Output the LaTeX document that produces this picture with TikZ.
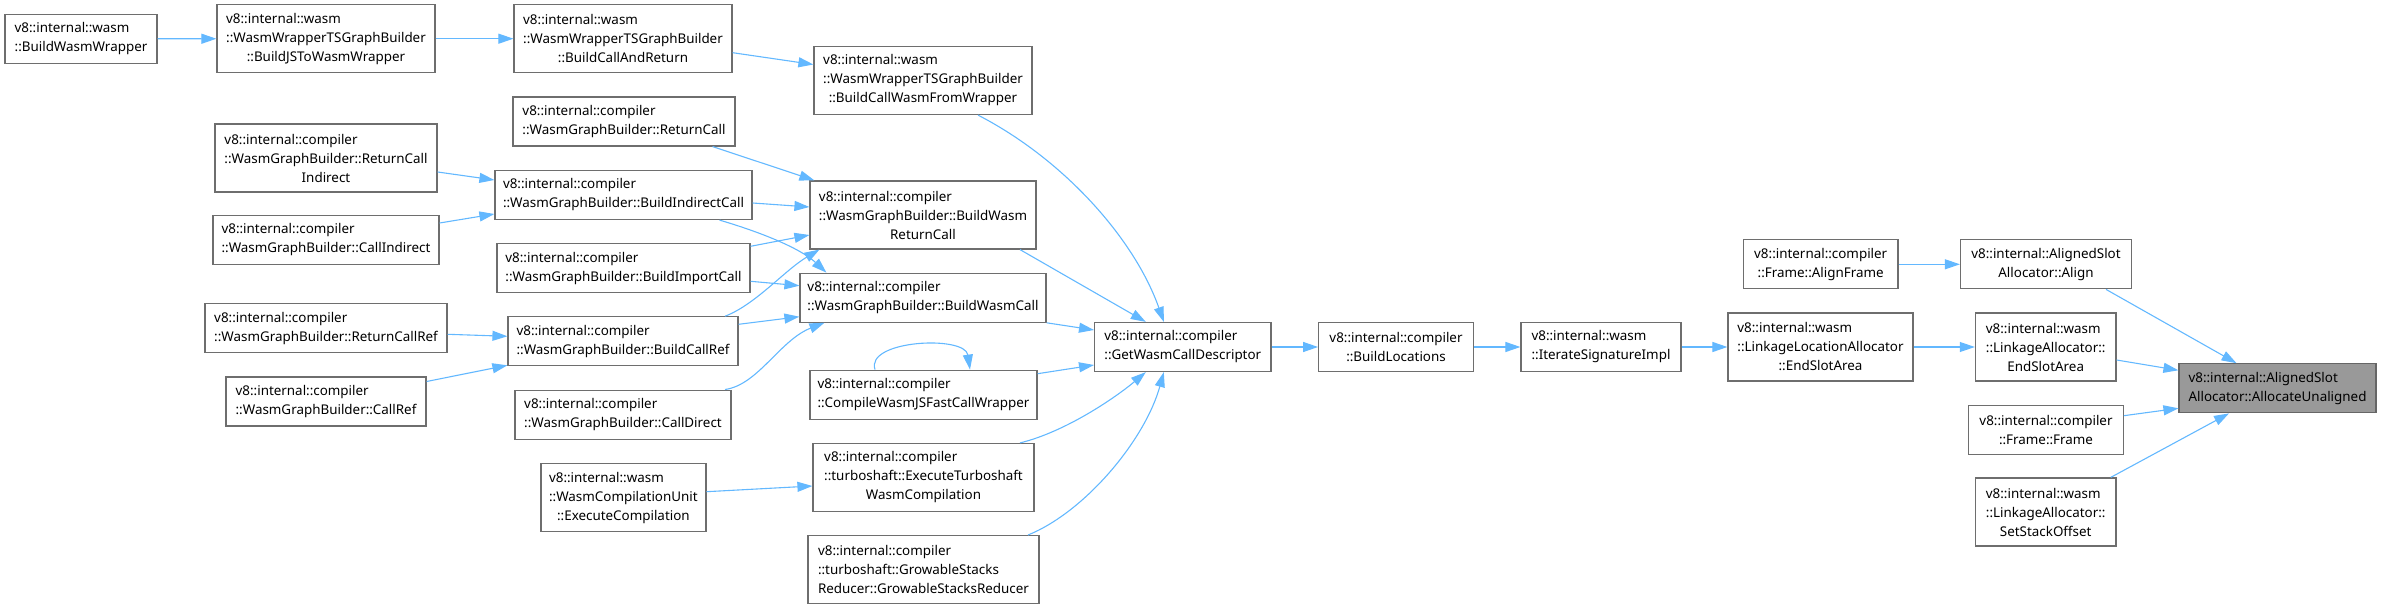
\documentclass[tikz,border=0pt]{standalone}
\usepackage{fontspec}
\setmainfont{Noto Sans}
\usetikzlibrary{arrows.meta}
\definecolor{edgeblue}{HTML}{63B8FF}
\definecolor{boxline}{HTML}{6E6E6E}
\definecolor{hilite}{HTML}{999999}
\definecolor{hiline}{HTML}{666666}

\begin{document}
\begin{tikzpicture}[
    x=1pt, y=-1pt,
    every node/.style={font=\fontsize{13.4}{19}\selectfont},
    box/.style={draw=boxline, fill=white, rectangle, line width=1.2pt, inner sep=4pt, align=left, minimum height=49pt},
    tall/.style={minimum height=68pt},
    focus/.style={box, draw=hiline, fill=hilite},
    arrow/.style={line width=1.1pt, -{Triangle[length=15pt, width=10pt]}, color=edgeblue}
]
\useasboundingbox (0,0) rectangle (2381,609);

\node (wrapper) [box, minimum width=152pt] at (81,38.8) {v8::internal::wasm\\\hfil::BuildWasmWrapper};
\node (jstowasm) [box, tall, minimum width=218pt] at (326,38.7) {v8::internal::wasm\\::WasmWrapperTSGraphBuilder\\\hfil::BuildJSToWasmWrapper};
\node (callreturn) [box, tall, minimum width=218pt] at (623,38.7) {v8::internal::wasm\\::WasmWrapperTSGraphBuilder\\\hfil::BuildCallAndReturn};
\node (fromwrapper) [box, tall, minimum width=218pt] at (923,80.5) {v8::internal::wasm\\::WasmWrapperTSGraphBuilder\\\hfil::BuildCallWasmFromWrapper};
\node (returncall) [box, minimum width=222pt] at (624,121.5) {v8::internal::compiler\\\hfil::WasmGraphBuilder::ReturnCall};
\node (rcindirect) [box, tall, minimum width=222pt] at (326,158) {v8::internal::compiler\\::WasmGraphBuilder::ReturnCall\\\hfil Indirect};
\node (indirectcall) [box, minimum width=257pt] at (623.5,195) {v8::internal::compiler\\\hfil::WasmGraphBuilder::BuildIndirectCall};
\node (callindirect) [box, minimum width=226pt] at (326,240) {v8::internal::compiler\\\hfil::WasmGraphBuilder::CallIndirect};
\node (wasmreturn) [box, tall, minimum width=226pt] at (923,215) {v8::internal::compiler\\::WasmGraphBuilder::BuildWasm\\\hfil ReturnCall};
\node (importcall) [box, minimum width=253pt] at (623.5,268.3) {v8::internal::compiler\\\hfil::WasmGraphBuilder::BuildImportCall};
\node (wasmcall) [box, minimum width=246pt] at (923,297.7) {v8::internal::compiler\\\hfil::WasmGraphBuilder::BuildWasmCall};
\node (rcref) [box, minimum width=242pt] at (326,328.3) {v8::internal::compiler\\\hfil::WasmGraphBuilder::ReturnCallRef};
\node (buildcallref) [box, minimum width=230pt] at (623,341.3) {v8::internal::compiler\\\hfil::WasmGraphBuilder::BuildCallRef};
\node (callref) [box, minimum width=200pt] at (326,401.5) {v8::internal::compiler\\\hfil::WasmGraphBuilder::CallRef};
\node (calldirect) [box, minimum width=216pt] at (623,414.6) {v8::internal::compiler\\\hfil::WasmGraphBuilder::CallDirect};
\node (fastcall) [box, minimum width=227pt] at (923.5,394.7) {v8::internal::compiler\\\hfil::CompileWasmJSFastCallWrapper};
\node (turboshaft) [box, tall, minimum width=221pt] at (923.5,477.5) {v8::internal::compiler\\::turboshaft::ExecuteTurboshaft\\\hfil WasmCompilation};
\node (execcomp) [box, tall, minimum width=165pt] at (623.4,497.7) {v8::internal::wasm\\::WasmCompilationUnit\\\hfil::ExecuteCompilation};
\node (growable) [box, tall, minimum width=231pt] at (923.5,569.6) {v8::internal::compiler\\::turboshaft::GrowableStacks\\\hfil Reducer::GrowableStacksReducer};
\node (descriptor) [box, minimum width=176.4pt] at (1182.8,347) {v8::internal::compiler\\\hfil::GetWasmCallDescriptor};
\node (locations) [box, minimum width=154.6pt] at (1396,347) {v8::internal::compiler\\\hfil::BuildLocations};
\node (iterate) [box, minimum width=160pt] at (1601,347) {v8::internal::wasm\\\hfil::IterateSignatureImpl};
\node (locend) [box, tall, minimum width=185pt] at (1820.5,347) {v8::internal::wasm\\::LinkageLocationAllocator\\\hfil::EndSlotArea};
\node (alignframe) [box, minimum width=154.6pt] at (1820.7,264.3) {v8::internal::compiler\\\hfil::Frame::AlignFrame};
\node (align) [box, minimum width=171pt] at (2046,264.3) {v8::internal::AlignedSlot\\\hfil Allocator::Align};
\node (linkend) [box, tall, minimum width=140.6pt] at (2045.7,347) {v8::internal::wasm\\::LinkageAllocator::\\\hfil EndSlotArea};
\node (target) [focus, minimum width=197pt] at (2277.5,388.3) {v8::internal::AlignedSlot\\\hfil Allocator::AllocateUnaligned};
\node (frame) [box, minimum width=154.5pt] at (2046,429.7) {v8::internal::compiler\\\hfil::Frame::Frame};
\node (stackoff) [box, tall, minimum width=140.6pt] at (2045.7,512) {v8::internal::wasm\\::LinkageAllocator::\\\hfil SetStackOffset};

\draw [arrow] (wrapper) -- (jstowasm);
\draw [arrow] (jstowasm) -- (callreturn);
\draw [arrow] ([yshift=-14pt]callreturn.east) -- ([yshift=16pt]fromwrapper.west);
\draw [arrow] ([xshift=55pt]fromwrapper.south) .. controls (1065,160) and (1135,240) .. ([xshift=-19pt]descriptor.north);
\draw [arrow] ([xshift=-23pt]returncall.south east) -- ([xshift=5pt]wasmreturn.north west);
\draw [arrow] ([yshift=-14pt]rcindirect.east) -- ([yshift=15pt]indirectcall.west);
\draw [arrow] ([yshift=17pt]callindirect.east) -- ([yshift=-19pt]indirectcall.west);
\draw [arrow] ([yshift=-8pt]indirectcall.east) -- ([yshift=8pt]wasmreturn.west);
\draw [arrow] ([xshift=96pt]indirectcall.south) .. controls (760,232) and (800,248) .. ([xshift=27pt]wasmcall.north west);
\draw [arrow] ([yshift=22pt]importcall.east) -- ([yshift=-20pt]wasmreturn.west);
\draw [arrow] ([yshift=-13pt]importcall.east) -- ([yshift=12pt]wasmcall.west);
\draw [arrow] ([yshift=-6pt]rcref.east) -- ([yshift=5pt]buildcallref.west);
\draw [arrow] ([yshift=20pt]callref.east) -- ([yshift=-24pt]buildcallref.west);
\draw [arrow] ([xshift=102pt]buildcallref.north) .. controls (755,305) and (785,270) .. ([xshift=10pt]wasmreturn.south west);
\draw [arrow] ([yshift=17pt]buildcallref.east) -- ([yshift=-19pt]wasmcall.west);
\draw [arrow] ([xshift=102pt]calldirect.north) .. controls (758,385) and (780,340) .. ([xshift=25pt]wasmcall.south west);
\draw [arrow] ([xshift=97pt]wasmreturn.south) -- ([xshift=-37pt]descriptor.north);
\draw [arrow] (wasmcall.south east) -- ([yshift=17pt]descriptor.west);
\draw [arrow] ([yshift=21pt]fastcall.east) -- ([yshift=-18pt]descriptor.west);
\draw [arrow] ([xshift=-48.5pt]fastcall.north) .. controls (865,340) and (965,335) .. ([xshift=46.5pt]fastcall.north);
\draw [arrow] ([xshift=96.5pt]turboshaft.north) .. controls (1065,432) and (1115,398) .. ([xshift=-37pt]descriptor.south);
\draw [arrow] ([yshift=6pt]execcomp.east) -- ([yshift=-8.5pt]turboshaft.west);
\draw [arrow] ([xshift=104.5pt]growable.north) .. controls (1085,512) and (1145,440) .. ([xshift=-19pt]descriptor.south);
\draw [arrow] (descriptor) -- (locations);
\draw [arrow] (locations) -- (iterate);
\draw [arrow] (iterate) -- (locend);
\draw [arrow] (locend) -- (linkend);
\draw [arrow] (alignframe) -- (align);
\draw [arrow] ([xshift=60pt]align.south) -- ([xshift=-41pt]target.north);
\draw [arrow] ([yshift=-13pt]linkend.east) -- ([yshift=18pt]target.west);
\draw [arrow] ([yshift=14pt]frame.east) -- ([yshift=-20pt]target.west);
\draw [arrow] ([xshift=65pt]stackoff.north) -- ([xshift=-48.5pt]target.south);

\end{tikzpicture}
\end{document}
